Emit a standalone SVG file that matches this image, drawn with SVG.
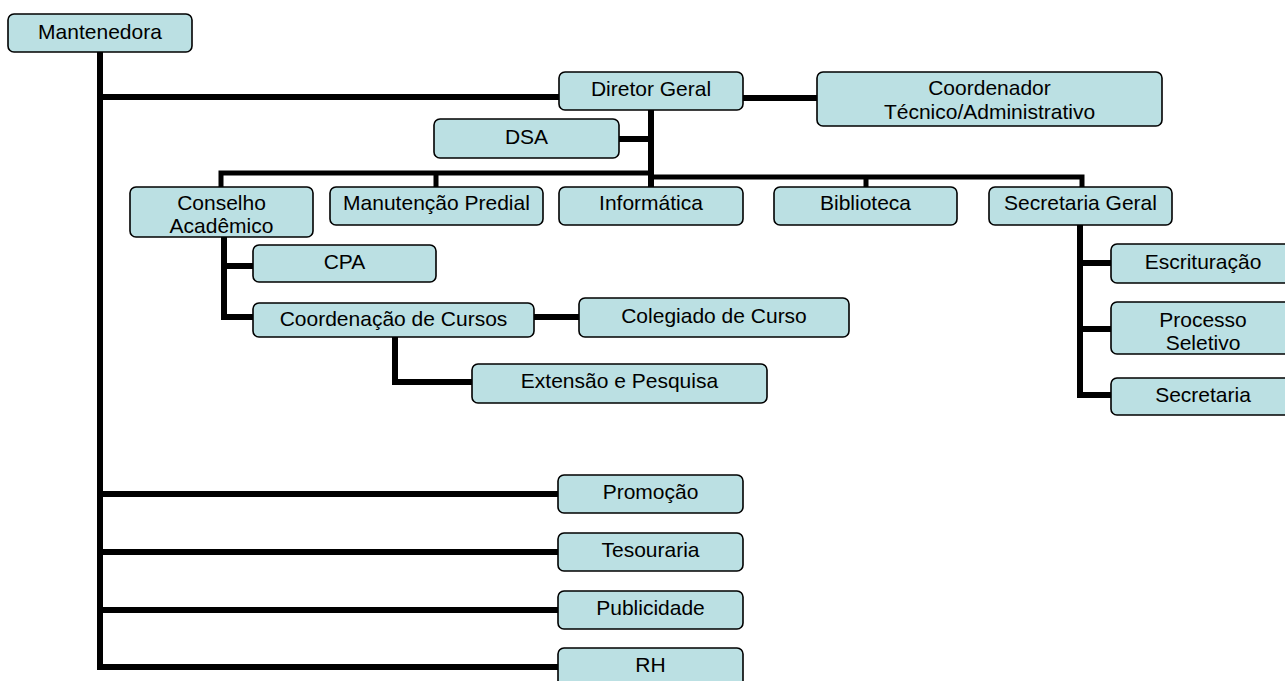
<svg xmlns="http://www.w3.org/2000/svg" width="1285" height="681" viewBox="0 0 1285 681">
<style>
.box{fill:#BBE0E3;stroke:#000;stroke-width:1.6}
.t{font-family:"Liberation Sans",Arial,sans-serif;font-size:21px;fill:#000;text-anchor:middle}
.c{fill:none;stroke:#000;stroke-width:6;stroke-linecap:square}
.c5{fill:none;stroke:#000;stroke-width:5;stroke-linecap:square}
</style>
<rect width="1285" height="681" fill="#fff"/>
<g id="connectors">
<path class="c" d="M100,52 V667 M100,97 H559 M743,98 H817 M651,110 V187 M619,139 H651"/>
<path class="c5" d="M221,173 H651 M221,173 V187 M436,173 V187 M651,177 H1082 M866,177 V187 M1082,177 V187"/>
<path class="c" d="M224,237 V317 M224,266 H253 M224,317 H253 M534,317 H579 M395,337 V382 H472"/>
<path class="c" d="M1080,225 V395 M1080,263 H1111 M1080,329 H1111 M1080,395 H1111"/>
<path class="c" d="M100,494 H558 M100,552 H558 M100,610 H558 M100,667 H558"/>
</g>
<g id="mantenedora"><rect class="box" x="8" y="14" width="184" height="38" rx="6"/><text class="t" x="100" y="39">Mantenedora</text></g>
<g id="diretor-geral"><rect class="box" x="559" y="72" width="184" height="38" rx="6"/><text class="t" x="651" y="96">Diretor Geral</text></g>
<g id="coordenador-tecnico"><rect class="box" x="817" y="72" width="345" height="54" rx="6"/><text class="t" x="989.5" y="95">Coordenador</text><text class="t" x="989.5" y="119">Técnico/Administrativo</text></g>
<g id="dsa"><rect class="box" x="434" y="119" width="185" height="39" rx="6"/><text class="t" x="526.5" y="144">DSA</text></g>
<g id="conselho-academico"><rect class="box" x="130" y="187" width="183" height="50" rx="6"/><text class="t" x="221.5" y="210">Conselho</text><text class="t" x="221.5" y="233">Acadêmico</text></g>
<g id="manutencao-predial"><rect class="box" x="330" y="187" width="213" height="38" rx="6"/><text class="t" x="436.5" y="210">Manutenção Predial</text></g>
<g id="informatica"><rect class="box" x="559" y="187" width="184" height="38" rx="6"/><text class="t" x="651" y="210">Informática</text></g>
<g id="biblioteca"><rect class="box" x="774" y="187" width="183" height="38" rx="6"/><text class="t" x="865.5" y="210">Biblioteca</text></g>
<g id="secretaria-geral"><rect class="box" x="989" y="187" width="183" height="38" rx="6"/><text class="t" x="1080.5" y="210">Secretaria Geral</text></g>
<g id="cpa"><rect class="box" x="253" y="245" width="183" height="37" rx="6"/><text class="t" x="344.5" y="269">CPA</text></g>
<g id="coordenacao-cursos"><rect class="box" x="253" y="303" width="281" height="34" rx="6"/><text class="t" x="393.5" y="326">Coordenação de Cursos</text></g>
<g id="colegiado-curso"><rect class="box" x="579" y="298" width="270" height="39" rx="6"/><text class="t" x="714" y="323">Colegiado de Curso</text></g>
<g id="extensao-pesquisa"><rect class="box" x="472" y="364" width="295" height="39" rx="6"/><text class="t" x="619.5" y="388">Extensão e Pesquisa</text></g>
<g id="escrituracao"><rect class="box" x="1111" y="244" width="184" height="39" rx="6"/><text class="t" x="1203" y="269">Escrituração</text></g>
<g id="processo-seletivo"><rect class="box" x="1111" y="302" width="184" height="52" rx="6"/><text class="t" x="1203" y="327">Processo</text><text class="t" x="1203" y="350">Seletivo</text></g>
<g id="secretaria"><rect class="box" x="1111" y="378" width="184" height="37" rx="6"/><text class="t" x="1203" y="402">Secretaria</text></g>
<g id="promocao"><rect class="box" x="558" y="475" width="185" height="38" rx="6"/><text class="t" x="650.5" y="499">Promoção</text></g>
<g id="tesouraria"><rect class="box" x="558" y="533" width="185" height="38" rx="6"/><text class="t" x="650.5" y="557">Tesouraria</text></g>
<g id="publicidade"><rect class="box" x="558" y="591" width="185" height="38" rx="6"/><text class="t" x="650.5" y="615">Publicidade</text></g>
<g id="rh"><rect class="box" x="558" y="648" width="185" height="42" rx="6"/><text class="t" x="650.5" y="672">RH</text></g>
</svg>
